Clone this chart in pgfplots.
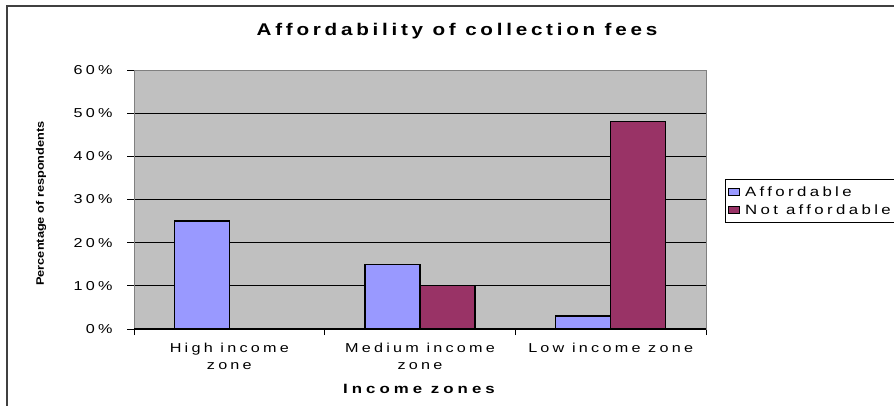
\documentclass[border=0pt]{standalone}
\usepackage{fontspec}
\setmainfont{Liberation Sans}
\newfontfamily\spaced[FakeStretch=1.25, LetterSpace=25]{Liberation Sans}
\newfontfamily\xspaced[FakeStretch=1.25, LetterSpace=30]{Liberation Sans}
\newfontfamily\tspaced[FakeStretch=1.22, LetterSpace=22]{Liberation Sans}
\usepackage{pgfplots}
\pgfplotsset{compat=1.18}
\definecolor{aff}{HTML}{9999FF}
\definecolor{naff}{HTML}{993366}
\definecolor{plotbg}{HTML}{C0C0C0}
\definecolor{framegray}{HTML}{808080}
\begin{document}
\begin{tikzpicture}[x=1bp,y=1bp]
\path[use as bounding box] (0,0) rectangle (894,405);
\draw[line width=1.3bp, color=black!75] (7,-10) -- (7,399) -- (910,399);
\node[font=\tspaced\bfseries\fontsize{17}{19}\selectfont, anchor=base] at (457,370) {Affordability of collection fees};
\node[font=\bfseries\fontsize{12.8}{14}\selectfont, rotate=90, anchor=center, yscale=0.85] at (41,201.5) {Percentage of respondents};
\node[font=\xspaced\bfseries\fontsize{13.5}{15}\selectfont, anchor=base] at (419,12) {Income zones};
\begin{axis}[at={(134bp,76bp)}, anchor=south west, scale only axis,
  width=572bp, height=259bp,
  xmin=-0.5, xmax=2.5, ymin=0, ymax=60,
  ybar=0pt, bar width=55bp,
  axis background/.style={fill=plotbg},
  axis line style={framegray, line width=1bp},
  tick pos=left,
  xtick={0,1,2},
  xticklabels={{High income\\zone},{Medium income\\zone},{Low income zone}},
  xticklabel style={align=center, font=\spaced\fontsize{13}{17}\selectfont, yshift=-4bp},
  major x tick style={draw=none},
  minor xtick={-0.5,0.5,1.5,2.5},
  minor x tick style={black, line width=0.8bp},
  minor tick length=6bp,
  tick align=outside,
  ytick={0,10,...,60},
  yticklabel={\pgfmathprintnumber{\tick}\%},
  yticklabel style={font=\spaced\fontsize{13}{14}\selectfont, xshift=-11bp},
  major y tick style={black, line width=0.8bp},
  major tick length=7bp,
  /pgf/number format/assume math mode=true,
  ymajorgrids, grid style={black, line width=0.8bp},
  legend style={at={(1.0332,0.579)}, anchor=north west, draw=black, fill=white,
    font=\spaced\fontsize{13.5}{15}\selectfont, inner xsep=3bp, inner ysep=5bp,
    row sep=3bp, line width=0.8bp,
    /tikz/every odd column/.append style={column sep=3bp}},
  legend cell align=left,
]
\addplot[fill=aff, draw=black, line width=1.2bp,
  legend image code/.code={\draw[fill=aff, draw=black, line width=0.7bp] (0bp,-3.5bp) rectangle (11bp,3.5bp);}]
  coordinates {(0,25) (1,15) (2,3)};
\addplot[fill=naff, draw=black, line width=1.2bp,
  legend image code/.code={\draw[fill=naff, draw=black, line width=0.7bp] (0bp,-3.5bp) rectangle (11bp,3.5bp);}]
  coordinates {(0,0) (1,10) (2,48)};
\legend{Affordable, Not affordable}
\draw[black, line width=1.5bp] (rel axis cs:0,0) -- (rel axis cs:1,0);
\end{axis}
\end{tikzpicture}
\end{document}
